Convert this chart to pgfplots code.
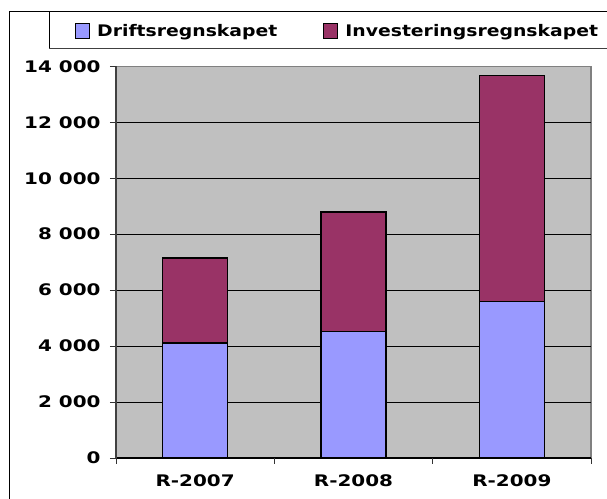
\documentclass[border=0pt]{standalone}
\usepackage{fontspec}
\setmainfont{DejaVu Sans}[FakeStretch=1.18]
\newfontfamily\tickfam{DejaVu Sans}[FakeStretch=1.25]
\usepackage{pgfplots}
\pgfplotsset{compat=1.18}
\definecolor{drift}{HTML}{9999FF}
\definecolor{invest}{HTML}{993366}
\definecolor{plotbg}{HTML}{C0C0C0}
\definecolor{bordergray}{HTML}{808080}
\newcommand{\chartfont}{\bfseries\fontsize{16}{19}\selectfont}
\newcommand{\tickfont}{\tickfam\bfseries\fontsize{16}{19}\selectfont}
\begin{document}
\begin{tikzpicture}
\path[use as bounding box] (0,0) rectangle (607bp,499bp);
\clip (0,0) rectangle (607bp,499bp);
% outer frame and legend box
\draw[black, line width=1bp] (9bp,-5bp) -- (9bp,487bp) -- (615bp,487bp);
\draw[black, line width=1bp] (49bp,487bp) -- (49bp,450.5bp);
\draw[black!75, line width=1.3bp] (49bp,450.5bp) -- (615bp,450.5bp);
\begin{axis}[
  at={(116bp,41bp)}, anchor=south west,
  scale only axis, width=475bp, height=391.7bp,
  xmin=-0.5, xmax=2.5, ymin=0, ymax=14000,
  ybar stacked, bar width=0.41,
  axis background/.style={fill=plotbg, draw=bordergray, line width=1.2bp},
  axis lines=left,
  x axis line style={-, draw=black, line width=1bp},
  y axis line style={-, draw=black!75, line width=1.3bp},
  tick align=outside,
  major tick length=6bp,
  tick style={draw=black!80, line width=0.9bp},
  xtick={-0.5,0.5,1.5,2.5},
  xticklabels={\empty,\empty,\empty,\empty},
  extra x ticks={0,1,2},
  extra x tick labels={R-2007,R-2008,R-2009},
  extra x tick style={major tick length=0pt, xticklabel style={yshift=-13bp}},
  ytick={0,2000,...,12000},
  extra y ticks={14000},
  extra y tick style={grid=none},
  yticklabel style={xshift=-6bp},
  ymajorgrids,
  grid style={black, line width=0.8bp},
  scaled y ticks=false,
  /pgf/number format/assume math mode=true,
  /pgf/number format/1000 sep={\ },
  tick label style={font=\tickfont},
  legend style={at={(axis description cs:-0.0863,1.0901)}, anchor=west,
    draw=none, fill=none, inner sep=0pt, font=\chartfont,
    legend columns=2,
    nodes={inner sep=0pt},
    /tikz/every odd column/.append style={column sep=7bp},
    /tikz/every even column/.append style={column sep=46bp}},
  sqleg/.style={legend image code/.code={\draw[##1, draw=black, line width=1bp] (0bp,-7bp) rectangle (14bp,7bp);}},
]
\addplot[fill=drift, draw=black, line width=1.5bp, sqleg] coordinates {(0,4110) (1,4525) (2,5590)};
\addplot[fill=invest, draw=black, line width=1.5bp, sqleg] coordinates {(0,3035) (1,4260) (2,8078)};
\legend{Driftsregnskapet,Investeringsregnskapet}
\end{axis}
\end{tikzpicture}
\end{document}
